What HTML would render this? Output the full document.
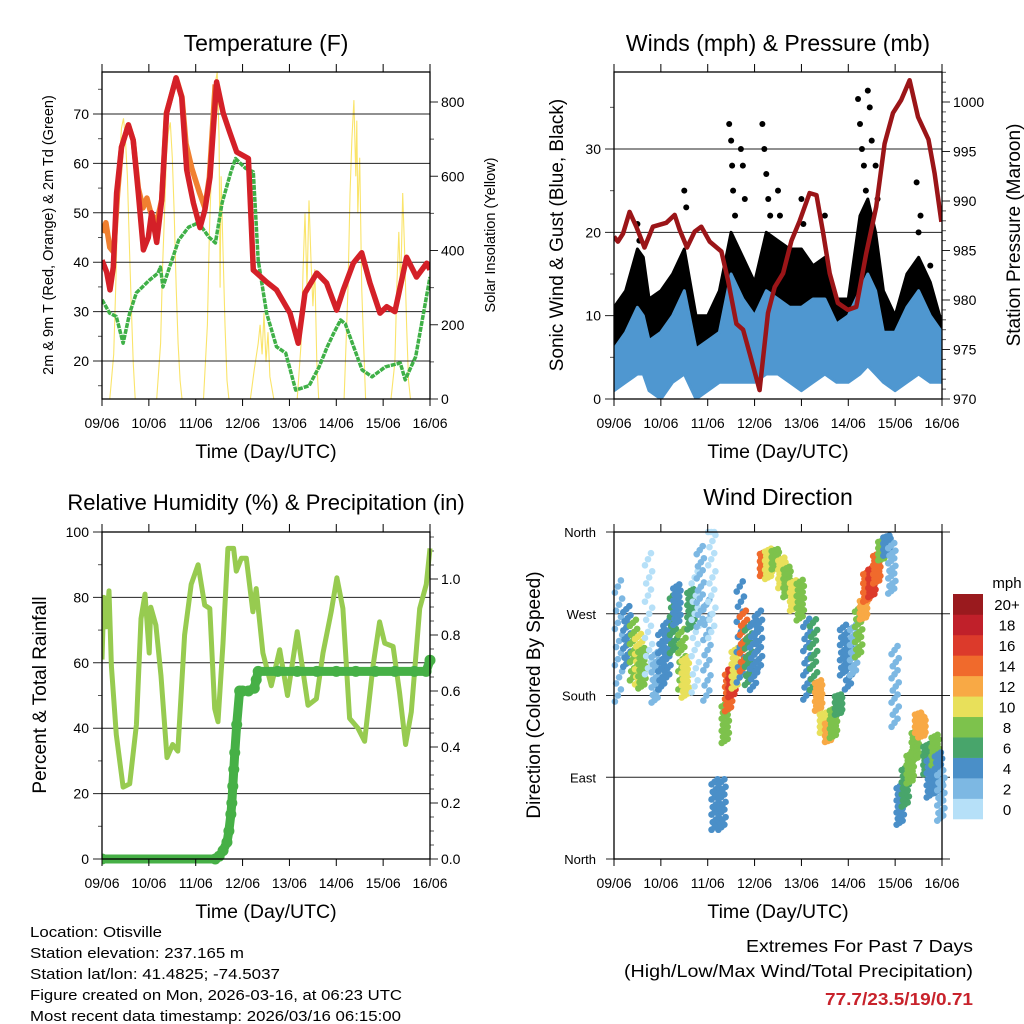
<!DOCTYPE html>
<html><head><meta charset="utf-8"><style>
html,body{margin:0;padding:0;background:#fff;}
svg{display:block;font-family:"Liberation Sans",Arial,sans-serif;}
</style></head><body>
<svg id="fig" width="1024" height="1024" viewBox="0 0 1024 1024" xmlns="http://www.w3.org/2000/svg">
<rect width="1024" height="1024" fill="#fff"/>
</svg>
<script>
// ---------- DATA ----------
const dayLabels = ["09/06","10/06","11/06","12/06","13/06","14/06","15/06","16/06"];
const tempRedT = [0,2.4,4.1,5.8,7.5,10,13.5,16,18.6,21.2,23.7,25.4,28,30.6,33.1,37.9,40.8,43.4,46.8,50.2,52.7,55.3,58.7,62.1,65.5,69,75,77.5,84.3,89.4,96.3,100.5,104,110,115,120.2,123.6,128.7,133,137.2,142.4,145.8,150,156,161.1,166.3,168];
const tempRedV = [40.4,38,34.4,39,54,63.3,67.8,64.7,54,42.5,45,50,44,52.6,70.2,77.3,73.4,58.7,52,47,50.6,57.2,76.5,70.2,66.2,62.3,61,38.4,36,34.4,29.7,23.6,33.8,37.8,35.8,30.3,34.4,39.8,41.9,35.8,29.7,31,30,41,37,39.8,38.5];
const tempOrangeT = [0,2,4,6,8,10,13.5,16,18.6,21,23,25,28,30.6,33,38,41,43,46,50,52.7,55,58];
const tempOrangeV = [46,48,43,42,54,63.3,67.8,64.7,55,51,53,50,48,52.6,70.2,77.3,73.4,64,59,54,51,57.2,76];
const dewT = [0,3.9,7.3,10.8,14.2,17.6,24.4,28.7,29.9,31.2,39.3,44.4,49.5,54.7,58.1,61.5,65.8,68.4,73.5,77.5,80,84.3,89.4,94.1,99.2,106.1,111.2,115.4,118.8,122.2,124.6,133.2,138.3,145.1,152.8,155.3,160.7,168];
const dewV = [32.4,29.7,29,23.6,29.7,33.8,36.4,37.8,39,35,44.5,47.1,48,45.1,43.9,52,58,61,59,58.3,40.4,29.7,22.9,21.6,14.1,15,18.8,22.9,25.7,28.3,27.5,18.2,16.8,18.8,19.6,16.2,20.9,37];
const solarT = [0,4,6,7,8,9,10,11,12,13,14,15,16,17,28,30,31,32,33,34,35,36,37,38,39,40,41,52,54,55,56,57,58,59,60,60.5,61,62,63,64,65,76,78,80,81,82,83,84,85,86,88,100,102,103,104,105,106,107,108,109,110,111,124,126,127,128,129,130,130.5,131,132,133,134,135,148,150,151,152,153,154,155,156,157,158,168];
const solarV = [0,0,120,300,500,650,730,756,700,600,420,250,100,0,0,150,350,500,650,720,745,650,500,300,150,50,0,0,200,450,600,750,850,880,700,300,600,400,200,50,0,0,80,150,200,120,231,100,180,60,0,0,150,350,500,300,535,380,250,350,100,0,0,300,550,700,805,600,750,500,650,300,150,0,0,100,300,450,300,555,400,200,50,0,0];
const windT = [0,6,12,15,18,24,30,36,42,48,54,60,66,72,78,84,90,96,102,108,114,120,126,130,134,138,144,150,156,162,168];
const sonicLo = [1,2,3,3,1,0,2,3,0,1,2,2,2,2,3,3,2,1,2,3,2,2,3,4,3,2,1,2,3,2,2];
const sonicHi = [6,8,11,10,7,8,10,13,6,7,8,15,12,10,13,12,11,11,12,12,9,10,13,15,13,8,8,11,13,10,8];
const gustLo = [3,5,8,8,3,2,5,8,1,2,4,8,6,5,8,8,6,5,6,7,4,4,8,11,8,3,3,5,8,5,4];
const gustHi = [11,13,18,17,12,13,15,18,10,10,13,20,17,14,20,19,18,18,16,17,12,12,22,24,20,13,10,15,17,14,9];
const spikeT = [12,13,36,37,59,60,60.5,61,62,65,66,67,76,77,78,79,80,84,85,96,97,108,125,126,127,128,129,130,131,132,134,135,155,156,157,162];
const spikeV = [21,19,25,23,33,31,28,25,22,30,28,24,33,30,27,24,22,25,22,24,21,22,36,33,30,28,25,37,35,31,28,24,26,20,22,16];
const presT = [0,2,4.6,8,11.4,15.6,19.9,26.8,31.1,33.6,37.4,41.3,44.7,49,55,58.4,62.7,66.1,69.5,74.6,78.9,82.3,86.6,90.9,95.1,100.2,103.7,107.1,110.5,114.7,119.8,124.1,129.2,134.3,138.6,142.9,147.1,151.4,155.7,161.1,164.2,167.7];
const presV = [986.4,985.9,986.7,988.9,987.4,985.3,987.4,987.8,988.6,987.1,985.3,986.9,987.4,985.9,984.9,982,977.6,977,974.6,970.9,978.7,981.3,982.7,986,988,990.8,990.6,986.8,982.7,979.7,979,979.3,984.7,989.4,995.8,998.9,1000.2,1002.2,998.5,996.2,992.8,987.9];
const rhT = [0,0.9,2.2,3.6,4.8,7.3,10.8,14.2,17.6,20,22,24.2,25,27.6,30.2,33.3,36.2,38.8,42.3,45.7,49.2,52.6,55.2,57.7,59.4,62,64.5,67.4,68.8,71.4,73.9,77.3,79,82.4,86.7,91,95,100,105.5,109.8,113.2,117.4,120.3,123.4,126.8,131.1,134.5,138.8,142.2,144.8,149.1,152.4,155.5,158.4,162.7,166.1,168];
const rhV = [61,80,71,82,59,38,22,23,41,73.5,81,63,77,71.5,56,31,35,33,68.5,84,90,77.6,76.6,46,42,66,95,95,88,92,92,75.6,82.7,63,53,64,50,69.5,47,49,63,75.6,86,76.6,43,40,36,59,72.5,66,65,51,35,45,76.6,84,95];
const rainT = [0,58,60,62,64,65,66,66.5,67,67.5,68,69,70.5,72,75,78,79,80,90,100,110,120,130,140,150,160,166,168];
const rainV = [0,0,0.01,0.03,0.06,0.1,0.16,0.2,0.26,0.32,0.38,0.48,0.6,0.6,0.6,0.61,0.64,0.67,0.67,0.67,0.67,0.67,0.67,0.67,0.67,0.67,0.67,0.71];
const dirT = [2,6.3,9.7,12.3,14,17.4,20.8,24.2,26.8,30.2,31.9,34.5,36.2,39.1,41.3,43.9,47.3,49.8,51.5,55,56.7,58.4,60.1,61.8,64.4,66,68.6,71.2,73.7,76.3,78.9,82.3,85.7,88.3,91.7,95.1,98.5,101.9,104.5,107,109.6,112.1,114.7,117.3,119.8,122.4,125,127.5,129.2,131.8,134.3,136.9,139.5,142,143.7,146.3,148.9,151.4,154,155.7,157.4,160,161.7,164.2,165.9,167.1];
const dirC = [240,245,230,220,210,270,200,220,230,260,280,220,200,275,250,300,230,310,60,60,150,185,195,210,250,240,225,225,240,325,325,330,315,305,290,285,220,225,180,150,140,150,170,230,220,230,250,275,300,305,320,340,345,320,190,60,80,100,125,150,145,110,90,120,95,70];
const dirS = [60,30,30,25,20,60,25,30,30,30,20,30,20,20,60,40,50,60,25,25,20,20,15,20,50,30,30,35,30,12,15,10,15,15,15,20,40,35,15,10,10,15,10,25,30,25,25,10,15,15,15,10,10,25,40,20,20,15,15,10,10,15,20,15,20,25];
const dirSpd = [3,5,8,10,9,1,3,4,5,6,4,8,10,7,1,2,3,1,4,4,8,14,17,10,4,14,6,5,4,14,10,8,10,8,10,8,4,6,12,10,12,8,6,4,4,3,8,12,15,17,14,8,4,3,2,4,6,8,8,13,12,7,5,8,4,3];
const speedBins = ["0","2","4","6","8","10","12","14","16","18","20+"];
const binColors = ["#b6e0f8","#7db8e3","#4a8fc8","#48a56b","#7dc24c","#e8e05a","#f8a945","#f06a2c","#dc3a2b","#c0202a","#9a1a1e"];

// ---------- HELPERS ----------
const NS = "http://www.w3.org/2000/svg";
const svg = document.getElementById("fig");
function mk(tag, attrs, parent){
  const e = document.createElementNS(NS, tag);
  for (const k in attrs) e.setAttribute(k, attrs[k]);
  (parent||svg).appendChild(e);
  return e;
}
function txt(s, x, y, size, anchor, parent, extra){
  const e = mk("text", Object.assign({x:x, y:y, "font-size":size, "text-anchor":anchor||"middle", fill:"#000"}, extra||{}), parent);
  e.textContent = s;
  return e;
}
function linScale(d0,d1,r0,r1){ return v => r0 + (v-d0)/(d1-d0)*(r1-r0); }
function pathFrom(ts, vs, xs, ys){
  let d = "";
  for (let i=0;i<ts.length;i++) d += (i?"L":"M") + xs(ts[i]).toFixed(1) + "," + ys(vs[i]).toFixed(1);
  return d;
}
function xAxis(g, L, R, B, T, title){
  const xs = linScale(0,168,L,R);
  for (let i=0;i<dayLabels.length;i++){
    const x = xs(i*24);
    const tk = mk("line",{x1:x,x2:x,y1:B,y2:B+7,stroke:"#000","stroke-width":1},g);
    
    
    const tt = mk("line",{x1:x,x2:x,y1:T-8,y2:T,stroke:"#000","stroke-width":1},g);
    
    
    const lb = txt(dayLabels[i], x, B+29, 14, "middle", g);
    
    
  }
  const tl = txt(title, (L+R)/2, B+59, 19.5, "middle", g);
  
  
  return xs;
}
function frame(g, L, R, T, B){
  const f = mk("rect",{x:L,y:T,width:R-L,height:B-T,fill:"none",stroke:"#000","stroke-width":1.3},g);
  
  
}
function leftAxis(g, ys, L, R, majors, minors, labels, grid){
  for (const v of minors){
    const y = ys(v);
    const m = mk("line",{x1:L-4,x2:L,y1:y,y2:y,stroke:"#555","stroke-width":1},g);
    
    
  }
  majors.forEach((v,i)=>{
    const y = ys(v);
    const gl = mk("line",{x1:L-9,x2:grid?R:L,y1:y,y2:y,stroke:"#222","stroke-width":1},g);
    
    
    const lb = txt(labels[i], L-13, y+5, 14, "end", g);
    
    
  });
}
function rightAxis(g, ys, R, majors, minors, labels){
  for (const v of minors){
    const y = ys(v);
    const m = mk("line",{x1:R,x2:R+4,y1:y,y2:y,stroke:"#555","stroke-width":1},g);
    
    
  }
  majors.forEach((v,i)=>{
    const y = ys(v);
    const t = mk("line",{x1:R,x2:R+8,y1:y,y2:y,stroke:"#222","stroke-width":1},g);
    
    
    const lb = txt(labels[i], R+11, y+5, 14, "start", g);
    
    
  });
}
function rotTitle(g, s, x, y, size, name){
  const e = txt(s, x, y, size, "middle", g, {transform:"rotate(-90 "+x+" "+y+")"});
  
  
  return e;
}
function range(a,b,s){ const r=[]; for(let v=a; v<=b+1e-9; v+=s) r.push(+v.toFixed(4)); return r; }

// ---------- PANEL 1: TEMPERATURE ----------
(function(){
  const L=102,R=430,T=72,B=399;
  const g = mk("g",{});  
  const ys = linScale(70,20,114,361);
  const ys2 = linScale(0,800,399,102);
  const xs = linScale(0,168,L,R);
  const clip = mk("clipPath",{id:"c1"},g); mk("rect",{x:L,y:T,width:R-L,height:B-T},clip);
  const ss = mk("path",{d:pathFrom(solarT,solarV,xs,ys2),fill:"none",stroke:"#fae46a","stroke-width":1.1,"clip-path":"url(#c1)"},g);
   
  leftAxis(g, ys, L, R, [20,30,40,50,60,70], [15,25,35,45,55,65,75], ["20","30","40","50","60","70"], true);
  rightAxis(g, ys2, R, [0,200,400,600,800], [100,300,500,700], ["0","200","400","600","800"]);
  const dp = mk("path",{d:pathFrom(dewT,dewV,xs,ys),fill:"none",stroke:"#3fb047","stroke-width":3.5,"stroke-dasharray":"5 1","stroke-linejoin":"round","clip-path":"url(#c1)"},g);
   
  const op = mk("path",{d:pathFrom(tempOrangeT,tempOrangeV,xs,ys),fill:"none",stroke:"#f08030","stroke-width":5.5,"stroke-linejoin":"round","clip-path":"url(#c1)"},g);
   
  const rp = mk("path",{d:pathFrom(tempRedT,tempRedV,xs,ys),fill:"none",stroke:"#d42028","stroke-width":5.5,"stroke-linejoin":"round","clip-path":"url(#c1)"},g);
   
  frame(g,L,R,T,B);
  xAxis(g,L,R,B,T,"Time (Day/UTC)");
  const t = txt("Temperature (F)", 266, 51, 23, "middle", g);  
  rotTitle(g, "2m & 9m T (Red, Orange) & 2m Td (Green)", 53, 235, 14.5, "temperature-y-axis-title");
  rotTitle(g, "Solar Insolation (Yellow)", 495, 235, 14.5, "solar-y-axis-title");
})();

// ---------- PANEL 2: WINDS ----------
(function(){
  const L=614,R=942,T=72,B=399;
  const g = mk("g",{});  
  const ys = linScale(0,30,399,149);
  const ys2 = linScale(970,1000,399,102);
  const xs = linScale(0,168,L,R);
  const clip = mk("clipPath",{id:"c2"},g); mk("rect",{x:L,y:T,width:R-L,height:B-T},clip);
  leftAxis(g, ys, L, R, [0,10,20,30], [5,15,25,35], ["0","10","20","30"], true);
  rightAxis(g, ys2, R, [970,975,980,985,990,995,1000], range(971,1003,1).filter(v=>v%5!==0), ["970","975","980","985","990","995","1000"]);
  function band(lo, hi, color, name){
    let d = "";
    for (let i=0;i<windT.length;i++) d += (i?"L":"M")+xs(windT[i]).toFixed(1)+","+ys(hi[i]).toFixed(1);
    for (let i=windT.length-1;i>=0;i--) d += "L"+xs(windT[i]).toFixed(1)+","+ys(lo[i]).toFixed(1);
    const p = mk("path",{d:d+"Z",fill:color,stroke:color,"stroke-width":3,"stroke-linejoin":"round","clip-path":"url(#c2)"},g);
     
  }
  band(gustLo, gustHi, "#000", "gust-band");
  for (let i=0;i<spikeT.length;i++){
    const c = mk("circle",{cx:xs(spikeT[i]),cy:ys(spikeV[i]),r:3,fill:"#000","clip-path":"url(#c2)"},g);
    
    
  }
  band(sonicLo, sonicHi, "#4f97d0", "sonic-wind-band");
  const pp = mk("path",{d:pathFrom(presT,presV,xs,ys2),fill:"none",stroke:"#9b1518","stroke-width":4.5,"stroke-linejoin":"round","clip-path":"url(#c2)"},g);
   
  frame(g,L,R,T,B);
  xAxis(g,L,R,B,T,"Time (Day/UTC)");
  const t = txt("Winds (mph) & Pressure (mb)", 778, 51, 23, "middle", g);  
  rotTitle(g, "Sonic Wind & Gust (Blue, Black)", 563, 235, 19, "wind-y-axis-title");
  rotTitle(g, "Station Pressure (Maroon)", 1020, 235, 19, "pressure-y-axis-title");
})();

// ---------- PANEL 3: RH & PRECIP ----------
(function(){
  const L=102,R=430,T=532,B=859;
  const g = mk("g",{});  
  const ys = linScale(0,100,859,532);
  const ys2 = linScale(0,1,859,579);
  const xs = linScale(0,168,L,R);
  const clip = mk("clipPath",{id:"c3"},g); mk("rect",{x:L,y:T-6,width:R-L+8,height:B-T+12},clip);
  leftAxis(g, ys, L, R, [0,20,40,60,80,100], [10,30,50,70,90], ["0","20","40","60","80","100"], true);
  rightAxis(g, ys2, R, [0,0.2,0.4,0.6,0.8,1.0], [0.05,0.1,0.15,0.25,0.3,0.35,0.45,0.5,0.55,0.65,0.7,0.75,0.85,0.9,0.95,1.05,1.1,1.15], ["0.0","0.2","0.4","0.6","0.8","1.0"]);
  const rh = mk("path",{d:pathFrom(rhT,rhV,xs,ys),fill:"none",stroke:"#97cb50","stroke-width":5,"stroke-linejoin":"round","clip-path":"url(#c3)"},g);
   
  const rp = mk("path",{d:pathFrom(rainT,rainV,xs,ys2),fill:"none",stroke:"#46b046","stroke-width":9,"stroke-linejoin":"round","stroke-linecap":"round","clip-path":"url(#c3)"},g);
   
  for (let i=0;i<rainT.length;i++){
    const c = mk("circle",{cx:xs(rainT[i]),cy:ys2(rainV[i]),r:5.5,fill:"#46b046","clip-path":"url(#c3)"},g);
    
    
  }
  frame(g,L,R,T,B);
  xAxis(g,L,R,B,T,"Time (Day/UTC)");
  const t = txt("Relative Humidity (%) & Precipitation (in)", 266, 510, 22, "middle", g);  
  rotTitle(g, "Percent & Total Rainfall", 46, 695, 19, "humidity-y-axis-title");
})();

// ---------- PANEL 4: WIND DIRECTION ----------
(function(){
  const L=614,R=942,T=532,B=859;
  const g = mk("g",{});  
  const ys = linScale(0,360,859,532);
  const xs = linScale(0,168,L,R);
  const names = ["North","East","South","West","North"];
  [0,90,180,270,360].forEach((v,i)=>{
    const y = ys(v);
    const gl = mk("line",{x1:L-8,x2:R+8,y1:y,y2:y,stroke:"#222","stroke-width":1},g);
     
    const lb = txt(names[i], L-18, y+5, 13, "end", g);
     
  });
  function binColor(s){ return binColors[Math.min(10, Math.floor(s/2))]; }
  const offs = [-3,-2,-1,0,1,2,3];
  const cols = [-3,0,3];
  for (let i=0;i<dirT.length;i++){
    for (let j=0;j<offs.length;j++){
      for (let c=0;c<cols.length;c++){
        const d = dirC[i] + offs[j]*dirS[i]/3 + (c-1)*dirS[i]/9;
        const dot = mk("circle",{cx:xs(dirT[i])+cols[c]+(j%2)*1.2,cy:ys(Math.max(0,Math.min(360,d))),r:3.3,fill:binColor(dirSpd[i])},g);
        
        
      }
    }
  }
  frame(g,L,R,T,B);
  xAxis(g,L,R,B,T,"Time (Day/UTC)");
  const t = txt("Wind Direction", 778, 505, 23, "middle", g);  
  rotTitle(g, "Direction (Colored By Speed)", 540, 695, 19, "direction-y-axis-title");
  const cb = mk("g",{},g);  
  const h = (819-594)/11;
  for (let k=0;k<11;k++){
    const y = 819 - (k+1)*h;
    const r = mk("rect",{x:953,y:y,width:30,height:h+0.3,fill:binColors[k]},cb);
     
    const lb = txt(speedBins[k], 1007, y+h/2+6, 15, "middle", cb);
     
  }
  const u = txt("mph", 1007, 588, 15, "middle", cb);  
})();

// ---------- FOOTER ----------
(function(){
  const g = mk("g",{});  
  const lines = [["Location: Otisville",132],["Station elevation: 237.165 m",214],["Station lat/lon: 41.4825; -74.5037",250],["Figure created on Mon, 2026-03-16, at 06:23 UTC",372],["Most recent data timestamp: 2026/03/16 06:15:00",371]];
  lines.forEach((l,i)=>{
    const e = txt(l[0], 30, 937+i*21, 15, "start", g, {textLength:l[1], lengthAdjust:"spacingAndGlyphs"});
     
  });
  const e1 = txt("Extremes For Past 7 Days", 973, 952, 17.5, "end", g, {textLength:227, lengthAdjust:"spacingAndGlyphs"});
   
  const e2 = txt("(High/Low/Max Wind/Total Precipitation)", 973, 977, 17.5, "end", g, {textLength:349, lengthAdjust:"spacingAndGlyphs"});
   
  const e3 = txt("77.7/23.5/19/0.71", 973, 1005, 17.5, "end", g, {fill:"#c8232c","font-weight":"bold", textLength:148, lengthAdjust:"spacingAndGlyphs"});
   
})();
</script>
</body></html>
